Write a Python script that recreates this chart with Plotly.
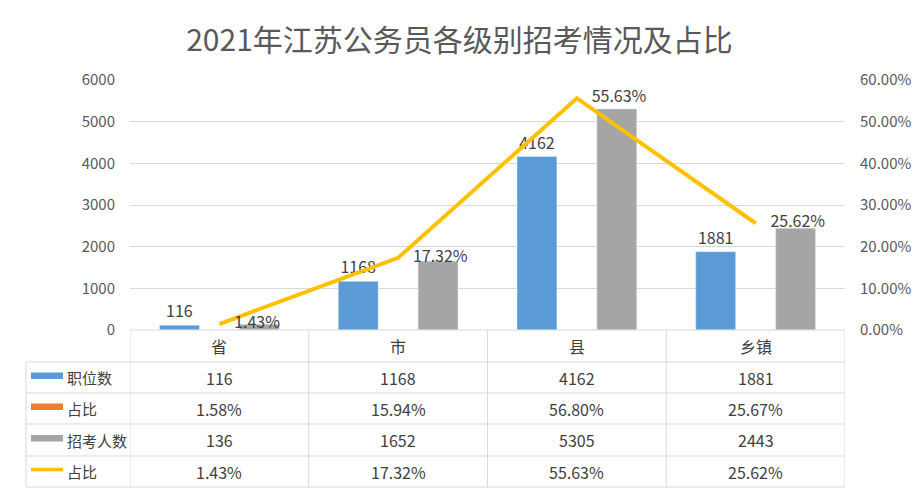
import plotly.graph_objects as go

categories = ["省", "市", "县", "乡镇"]
positions = [116, 1168, 4162, 1881]
position_share = [0.0158, 0.1594, 0.5680, 0.2567]
applicants = [136, 1652, 5305, 2443]
applicant_share = [0.0143, 0.1732, 0.5563, 0.2562]
series_names = ["职位数", "占比", "招考人数", "占比"]
colors = ["#5B9BD5", "#ED7D31", "#A5A5A5", "#FFC000"]
title = "2021年江苏公务员各级别招考情况及占比"

W, H = 919, 493
FONT = "Noto Sans CJK SC, Microsoft YaHei, sans-serif"
TXT = "#404040"
GRID = "#D9D9D9"

def px(x):
    return x / W

def py(y):
    return 1 - y / H

x_dom = [px(130), px(845)]
y_dom = [py(330), py(80)]

fig = go.Figure()
fig.add_trace(go.Bar(x=categories, y=positions, name=series_names[0],
                     marker_color=colors[0], text=[str(v) for v in positions],
                     textposition="outside", textfont=dict(size=16, color=TXT, family=FONT),
                     cliponaxis=False))
fig.add_trace(go.Bar(x=categories, y=position_share, name=series_names[1],
                     marker_color=colors[1]))
fig.add_trace(go.Bar(x=categories, y=applicants, name=series_names[2],
                     marker_color=colors[2]))
fig.add_trace(go.Scatter(x=categories, y=applicant_share, name=series_names[3],
                         yaxis="y2", mode="lines+markers+text",
                         line=dict(color=colors[3], width=4),
                         marker=dict(size=22, color="rgba(0,0,0,0)"),
                         text=[f"{v*100:.2f}%" for v in applicant_share],
                         textposition="middle right",
                         textfont=dict(size=16, color=TXT, family=FONT), cliponaxis=False))

shapes = []
annotations = []

row_y = [330, 362, 393, 424, 456, 487]
for i, yy in enumerate(row_y):
    if i == 0:
        shapes.append(dict(type="line", xref="x", yref="paper", x0=-0.5, x1=3.5,
                           y0=py(yy), y1=py(yy), line=dict(color=GRID, width=1)))
    else:
        shapes.append(dict(type="line", xref="paper", yref="paper", x0=px(26), x1=px(845),
                           y0=py(yy), y1=py(yy), line=dict(color=GRID, width=1)))
for k in range(len(categories) + 1):
    shapes.append(dict(type="line", xref="x", yref="paper", x0=k - 0.5, x1=k - 0.5,
                       y0=py(330), y1=py(487), line=dict(color=GRID, width=1)))
shapes.append(dict(type="line", xref="paper", yref="paper", x0=px(26), x1=px(26),
                   y0=py(362), y1=py(487), line=dict(color=GRID, width=1)))

for c in categories:
    annotations.append(dict(xref="x", yref="paper", x=c, y=py(346), text=c,
                            xanchor="center", yanchor="middle",
                            showarrow=False, font=dict(size=16, color=TXT, family=FONT)))

rows = [
    [str(v) for v in positions],
    [f"{v*100:.2f}%" for v in position_share],
    [str(v) for v in applicants],
    [f"{v*100:.2f}%" for v in applicant_share],
]
for r, vals in enumerate(rows):
    yc = (row_y[r + 1] + row_y[r + 2]) / 2
    for c, v in zip(categories, vals):
        annotations.append(dict(xref="x", yref="paper", x=c, y=py(yc), text=v,
                                xanchor="center", yanchor="middle",
                                showarrow=False, font=dict(size=16, color=TXT, family=FONT)))
    if r < 3:
        shapes.append(dict(type="rect", xref="paper", yref="paper", x0=px(31), x1=px(63),
                           y0=py(yc + 1.5), y1=py(yc - 5), fillcolor=colors[r],
                           line=dict(width=0)))
    else:
        shapes.append(dict(type="line", xref="paper", yref="paper", x0=px(31), x1=px(63),
                           y0=py(yc - 2), y1=py(yc - 2), line=dict(color=colors[r], width=3.5)))
    annotations.append(dict(xref="paper", yref="paper", x=px(65), y=py(yc),
                            text=series_names[r], xanchor="left", yanchor="middle",
                            showarrow=False,
                            font=dict(size=15, color=TXT, family=FONT)))

fig.update_layout(
    width=W, height=H,
    margin=dict(l=0, r=0, t=0, b=0, autoexpand=False),
    paper_bgcolor="white", plot_bgcolor="white",
    font=dict(family=FONT, color="#595959"),
    title=dict(text=title, x=0.5, xanchor="center", y=py(40), yanchor="middle",
               font=dict(size=30, color="#595959", family=FONT)),
    showlegend=False,
    barmode="group", bargap=0.33, bargroupgap=0,
    xaxis=dict(domain=x_dom, showticklabels=False, showline=False, showgrid=False,
               ticks="", range=[-0.5, 3.5], automargin=False),
    yaxis=dict(domain=y_dom, range=[0, 6000], dtick=1000, showgrid=True,
               gridcolor=GRID, zeroline=False, showline=False, automargin=False,
               tickfont=dict(size=15, color="#595959"), ticklabelstandoff=14),
    yaxis2=dict(overlaying="y", side="right", range=[0, 0.6], dtick=0.1,
                tickformat=".2%", showgrid=False, zeroline=False, showline=False,
                automargin=False,
                tickfont=dict(size=15, color="#595959"), ticklabelstandoff=14),
    shapes=shapes, annotations=annotations,
)

fig.write_html("out.html")
